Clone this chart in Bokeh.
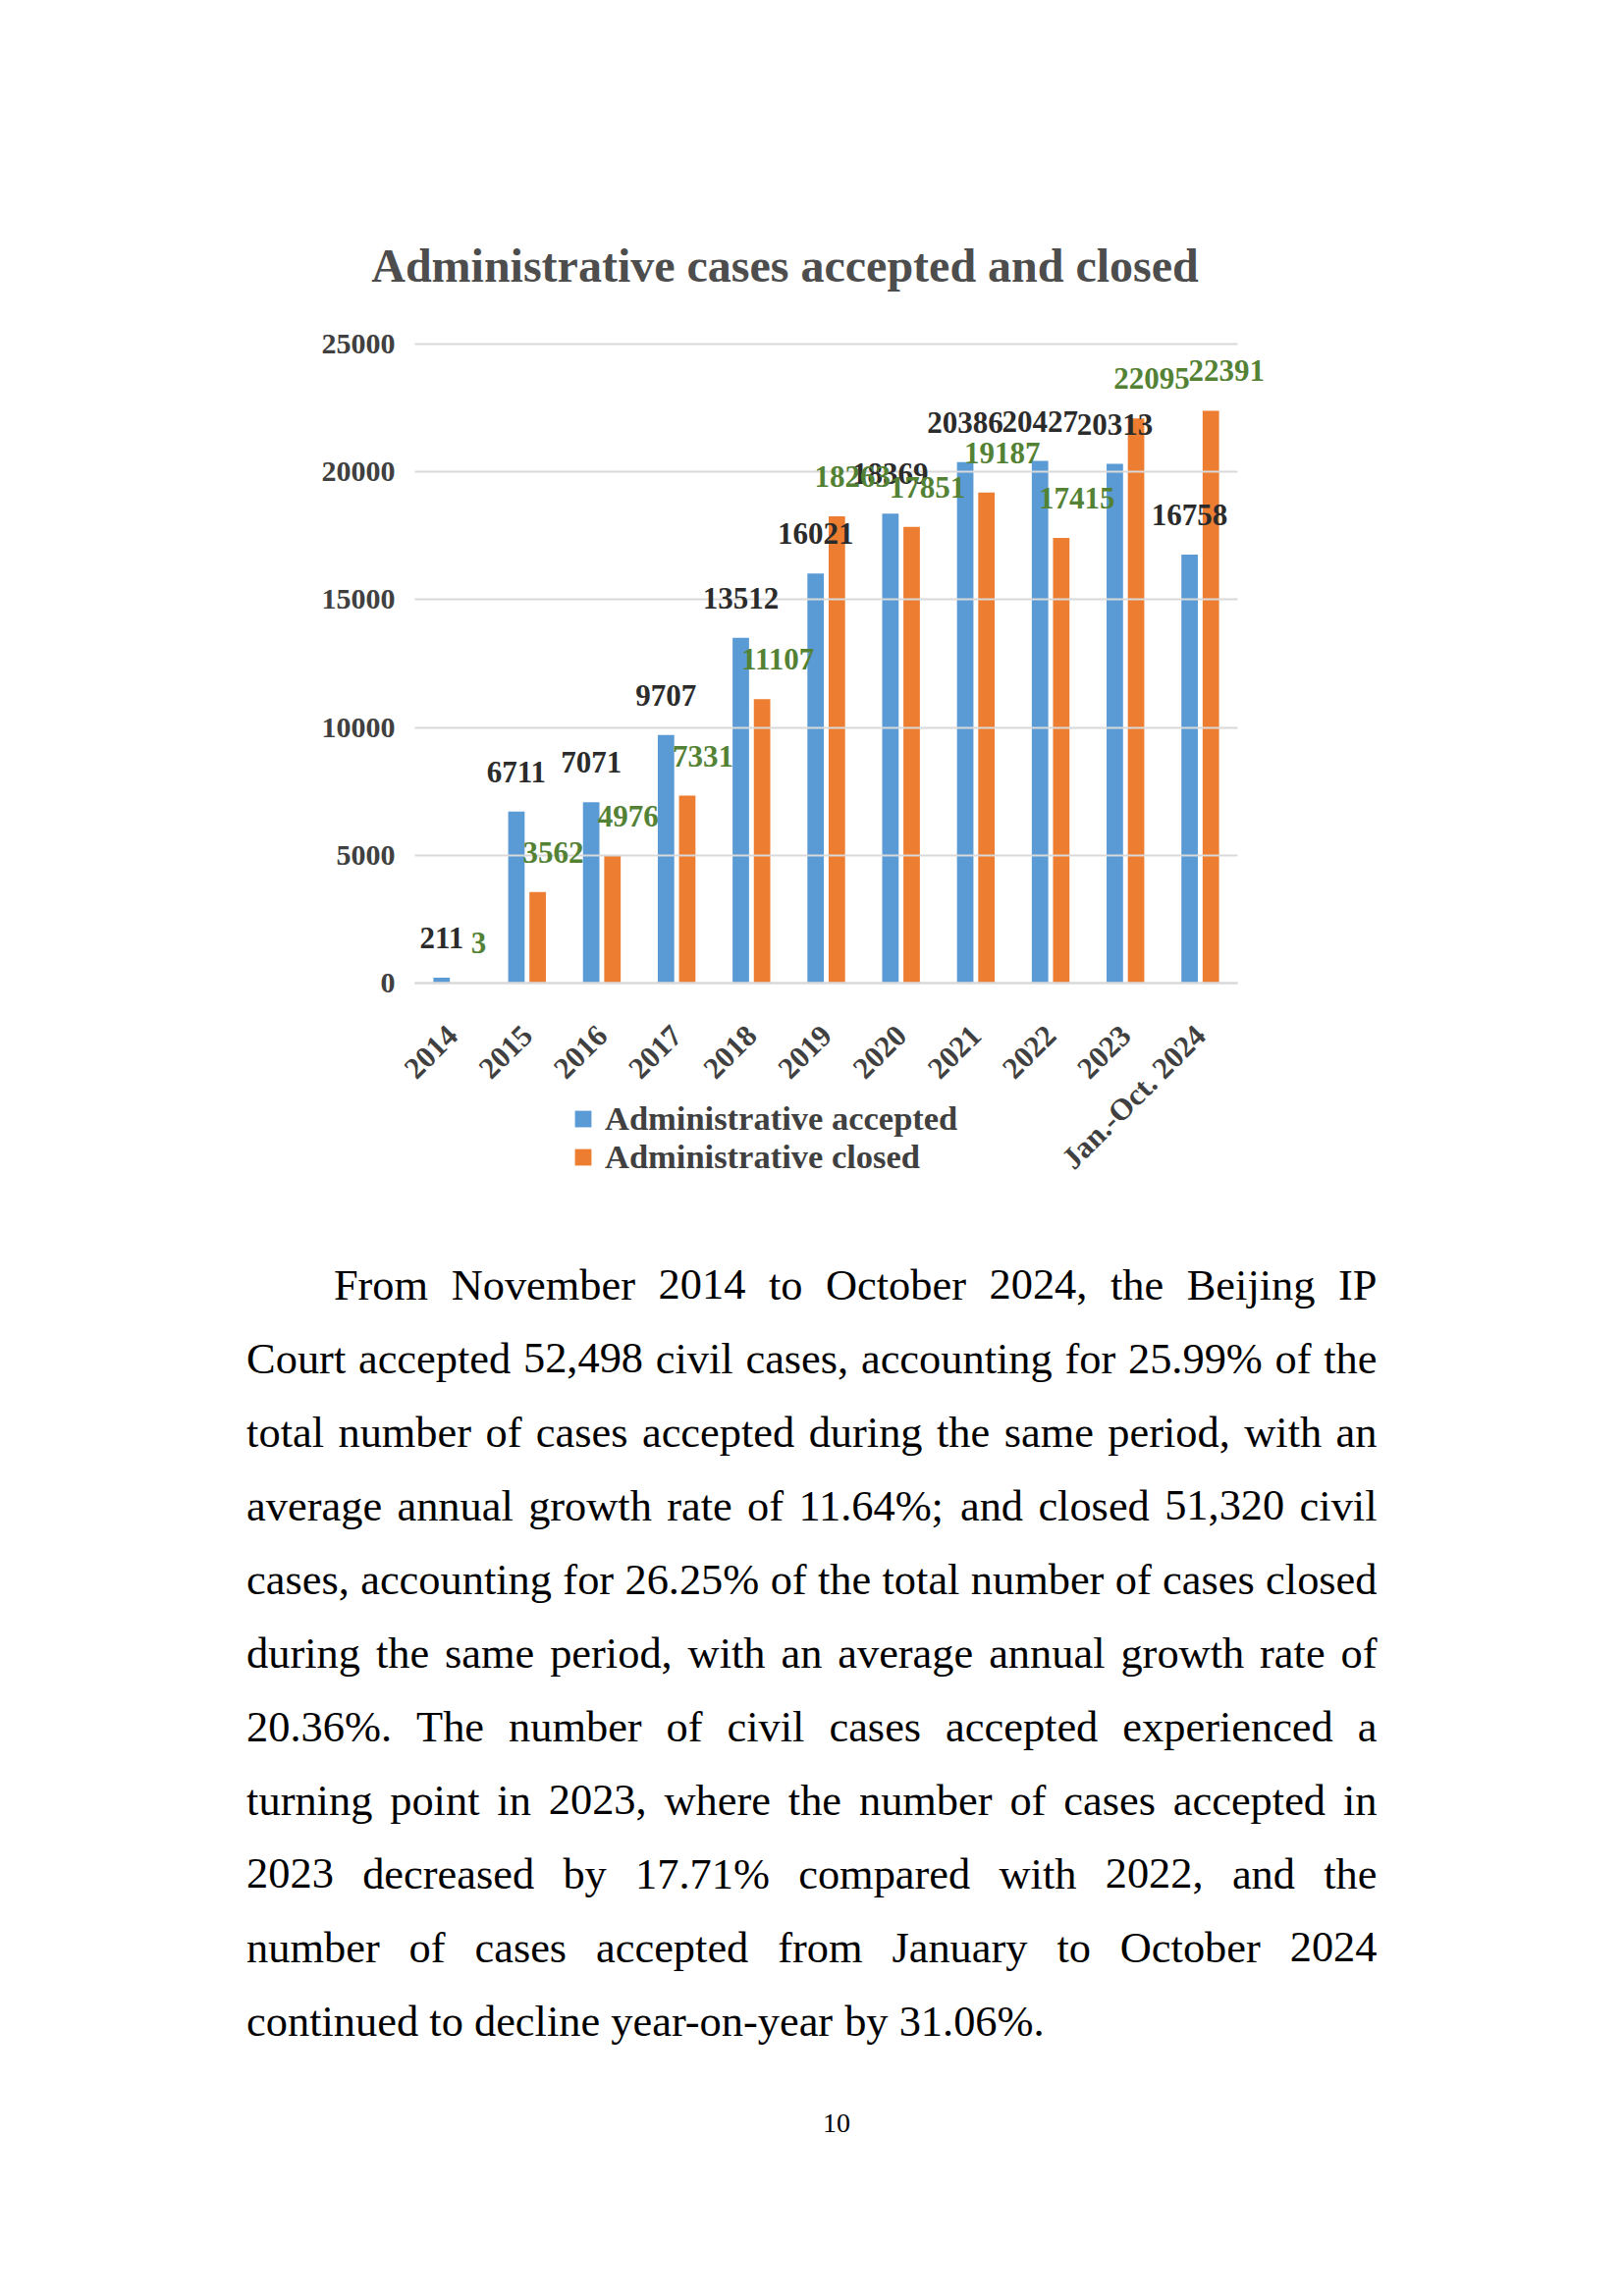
import math
from bokeh.plotting import figure
from bokeh.models import (ColumnDataSource, Range1d, FixedTicker, LinearAxis,
                          LabelSet, Legend, LegendItem)
from bokeh.transform import dodge
from bokeh.embed import file_html
from bokeh.resources import INLINE
from bokeh.core.properties import value

# ---------------- data ----------------
categories = ["2014", "2015", "2016", "2017", "2018", "2019", "2020",
              "2021", "2022", "2023", "Jan.-Oct. 2024"]
accepted = [211, 6711, 7071, 9707, 13512, 16021, 18369, 20386, 20427, 20313, 16758]
closed = [3, 3562, 4976, 7331, 11107, 18263, 17851, 19187, 17415, 22095, 22391]
y_ticks = [0, 5000, 10000, 15000, 20000, 25000]
title_text = "Administrative cases accepted and closed"
series_names = ["Administrative accepted", "Administrative closed"]
paragraph_lines = [
    "From November 2014 to October 2024, the Beijing IP",
    "Court accepted 52,498 civil cases, accounting for 25.99% of the",
    "total number of cases accepted during the same period, with an",
    "average annual growth rate of 11.64%; and closed 51,320 civil",
    "cases, accounting for 26.25% of the total number of cases closed",
    "during the same period, with an average annual growth rate of",
    "20.36%. The number of civil cases accepted experienced a",
    "turning point in 2023, where the number of cases accepted in",
    "2023 decreased by 17.71% compared with 2022, and the",
    "number of cases accepted from January to October 2024",
    "continued to decline year-on-year by 31.06%.",
]
page_number = "10"

# ---------------- styles / layout (canvas pixels) ----------------
SERIF = "Liberation Serif"
BLUE = "#5B9BD5"
ORANGE = "#ED7D31"
GRID = "#D9D9D9"
DARK = "#404040"
GREEN = "#548235"

W_C, H_C = 1638, 2323            # canvas
PLOT_L, PLOT_W = 422, 838        # plot area left / width
PLOT_T, PLOT_B = 350, 1001       # plot area top / bottom (value 25000 / 0)
Y_MAX = y_ticks[-1]
N = len(categories)
CAT_PX = PLOT_W / N
K = Y_MAX / (PLOT_B - PLOT_T)    # value per pixel

x_range = Range1d(-0.5 - PLOT_L / CAT_PX, -0.5 + (W_C - PLOT_L) / CAT_PX)
y_range = Range1d(-(H_C - PLOT_B) * K, Y_MAX + PLOT_T * K)

p = figure(frame_width=W_C, frame_height=H_C, min_border=0,
           x_range=x_range, y_range=y_range,
           x_axis_type=None, y_axis_type=None,
           output_backend="svg", toolbar_location=None,
           outline_line_color=None, background_fill_color="white",
           border_fill_color="white")
p.xgrid.grid_line_color = None
p.ygrid.grid_line_color = None
p.extra_x_ranges = {"px": Range1d(0, W_C)}
p.extra_y_ranges = {"px": Range1d(H_C, 0)}

src = ColumnDataSource(dict(
    xi=list(range(N)), cat=categories, acc=accepted, cls=closed,
    acc_txt=[str(v) for v in accepted], cls_txt=[str(v) for v in closed]))

# y axis: ticks extended inward act as the horizontal gridlines
yaxis = LinearAxis(fixed_location=-0.5, ticker=FixedTicker(ticks=y_ticks),
                   axis_line_color=None, major_tick_out=0, major_tick_in=PLOT_W,
                   major_tick_line_color=GRID, major_tick_line_width=2,
                   minor_tick_line_color=None, major_label_standoff=20,
                   major_label_text_font=SERIF, major_label_text_font_style="bold",
                   major_label_text_font_size="30px", major_label_text_color=DARK)
p.add_layout(yaxis, "left")

xaxis = LinearAxis(fixed_location=0, ticker=FixedTicker(ticks=list(range(N))),
                   major_label_overrides={i: c for i, c in enumerate(categories)},
                   bounds=(-0.5, N - 0.5),
                   axis_line_color=GRID, axis_line_width=2,
                   major_tick_line_color=None, major_tick_out=0, major_tick_in=0,
                   minor_tick_line_color=None,
                   major_label_orientation=math.pi / 4, major_label_standoff=48,
                   major_label_text_font=SERIF, major_label_text_font_style="bold",
                   major_label_text_font_size="31px", major_label_text_color=DARK)
p.add_layout(xaxis, "below")

rb = p.vbar(x=dodge("xi", -0.142), top="acc", width=0.22,
            source=src, fill_color=BLUE, line_color=None)
ro = p.vbar(x=dodge("xi", 0.142), top="cls", width=0.22,
            source=src, fill_color=ORANGE, line_color=None)

p.add_layout(LabelSet(x=dodge("xi", -0.142), y="acc", text="acc_txt",
                      source=src, x_offset=0, y_offset=30, text_align="center",
                      text_baseline="alphabetic", text_font=value(SERIF),
                      text_font_style="bold", text_font_size="31px",
                      text_color="#2b2b2b"))
p.add_layout(LabelSet(x=dodge("xi", 0.142), y="cls", text="cls_txt",
                      source=src, x_offset=16, y_offset=30, text_align="center",
                      text_baseline="alphabetic", text_font=value(SERIF),
                      text_font_style="bold", text_font_size="31px",
                      text_color=GREEN))

# title
p.text(x=[799], y=[270], text=[title_text], x_range_name="px", y_range_name="px",
       text_align="center", text_baseline="alphabetic", text_font=value(SERIF),
       text_font_style="bold", text_font_size=value("48px"), text_color="#4d4d4d")

legend = Legend(items=[LegendItem(label=series_names[0], renderers=[rb]),
                       LegendItem(label=series_names[1], renderers=[ro])],
                location=(583, 1125), orientation="vertical", padding=0, margin=0,
                spacing=-3, glyph_width=21, glyph_height=21, label_standoff=12,
                label_text_font=SERIF, label_text_font_style="bold",
                label_text_font_size="34.5px", label_text_color=DARK,
                background_fill_alpha=0, border_line_color=None)
p.add_layout(legend)

# ---------------- paragraph (justified) ----------------
WID = {' ': 250, ',': 250, '.': 250, '%': 833, ';': 278, '-': 333, ':': 278,
       'a': 444, 'b': 500, 'c': 444, 'd': 500, 'e': 444, 'f': 333, 'g': 500, 'h': 500,
       'i': 278, 'j': 278, 'k': 500, 'l': 278, 'm': 778, 'n': 500, 'o': 500, 'p': 500,
       'q': 500, 'r': 333, 's': 389, 't': 278, 'u': 500, 'v': 500, 'w': 722, 'x': 500,
       'y': 500, 'z': 444,
       'A': 722, 'B': 667, 'C': 667, 'D': 722, 'E': 611, 'F': 556, 'G': 722, 'H': 722,
       'I': 333, 'J': 389, 'K': 722, 'L': 611, 'M': 889, 'N': 722, 'O': 722, 'P': 556,
       'Q': 722, 'R': 667, 'S': 556, 'T': 611, 'U': 722, 'V': 722, 'W': 944, 'X': 722,
       'Y': 722, 'Z': 611}
for d in "0123456789":
    WID[d] = 500

FS = 44.4
LEFT, RIGHT = 250.6, 1402.0
BASE0, LEAD = 1308.0, 75.0


def text_width(s):
    return sum(WID.get(ch, 500) for ch in s) * FS / 1000.0


lx, ly, lw = [], [], []
rx, ry, rw = [], [], []
for i, line in enumerate(paragraph_lines):
    words = line.split(" ")
    indent = 2 * FS if i == 0 else 0.0
    y = BASE0 + LEAD * i
    widths = [text_width(w) for w in words]
    last = i == len(paragraph_lines) - 1
    if last or len(words) < 2:
        gap = WID[' '] * FS / 1000.0
    else:
        gap = (RIGHT - LEFT - indent - sum(widths)) / (len(words) - 1)
    x = LEFT + indent
    for j, (w, wd) in enumerate(zip(words, widths)):
        if (not last) and j == len(words) - 1:
            rx.append(RIGHT); ry.append(y); rw.append(w)
        else:
            lx.append(x); ly.append(y); lw.append(w)
        x += wd + gap

p.text(x=lx, y=ly, text=lw, x_range_name="px", y_range_name="px",
       text_align="left", text_baseline="alphabetic",
       text_font=value(SERIF), text_font_size=value("44.4px"), text_color="black")
p.text(x=rx, y=ry, text=rw, x_range_name="px", y_range_name="px",
       text_align="right", text_baseline="alphabetic",
       text_font=value(SERIF), text_font_size=value("44.4px"), text_color="black")
p.text(x=[851.6], y=[2162], text=[page_number], x_range_name="px", y_range_name="px",
       text_align="center", text_baseline="alphabetic", text_font=value(SERIF),
       text_font_size=value("28px"), text_color="black")

open("out.html", "w").write(file_html(p, INLINE))
